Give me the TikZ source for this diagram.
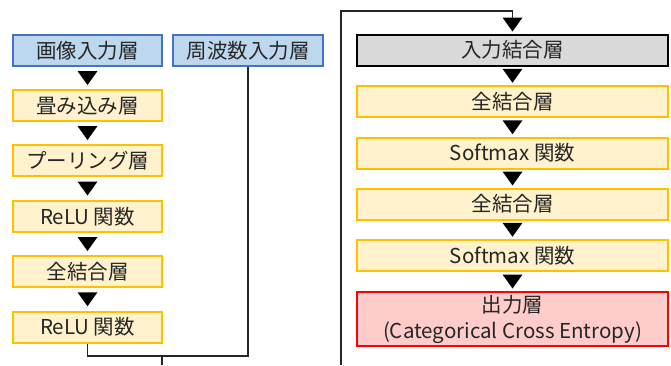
\documentclass[tikz,border=0pt]{standalone}
\usepackage{fontspec}
\setmainfont{Noto Sans CJK JP}
\usetikzlibrary{calc}
\definecolor{bluefill}{HTML}{BDD7EE}
\definecolor{blueline}{HTML}{4472C4}
\definecolor{yelfill}{HTML}{FFF2CC}
\definecolor{yelline}{HTML}{FFC000}
\definecolor{grayfill}{HTML}{D9D9D9}
\definecolor{redfill}{HTML}{FFCCCC}
\definecolor{redline}{HTML}{FF0000}
\definecolor{txt}{HTML}{262626}
\begin{document}
\begin{tikzpicture}[x=1pt,y=-1pt,
  box/.style={draw, line width=2pt, minimum height=31pt, inner sep=0pt, text=txt,
    font=\fontsize{20.5}{26}\selectfont, align=center},
  lbox/.style={box, minimum width=149pt},
  rbox/.style={box, minimum width=311pt},
  inblue/.style={fill=bluefill, draw=blueline},
  layer/.style={fill=yelfill, draw=yelline},
  mergebox/.style={fill=grayfill, draw=black},
  outbox/.style={fill=redfill, draw=redline},
  wire/.style={line width=1.2pt, draw=black!85},
  pics/tri/.style={code={\fill[black] (-10,-7) -- (10,-7) -- (0,7) -- cycle;}}
]
\useasboundingbox (0,0) rectangle (671,365);
% left column
\node[lbox, inblue] (img)   at (87.5,50.5)  {画像入力層};
\node[lbox, layer]  (conv)  at (87.5,105.5) {畳み込み層};
\node[lbox, layer]  (pool)  at (87.5,160.5) {プーリング層};
\node[lbox, layer]  (relu1) at (87.5,216.5) {ReLU 関数};
\node[lbox, layer]  (fc1)   at (87.5,271.5) {全結合層};
\node[lbox, layer]  (relu2) at (87.5,327)   {ReLU 関数};
\node[box, minimum width=150pt, inblue] (freq) at (248,50.5) {周波数入力層};
% right column
\node[rbox, mergebox] (concat) at (512.5,50)    {入力結合層};
\node[rbox, layer]    (fc2)    at (512.5,101.5) {全結合層};
\node[rbox, layer]    (sm1)    at (512.5,153)   {Softmax 関数};
\node[rbox, layer]    (fc3)    at (512.5,204)   {全結合層};
\node[rbox, layer]    (sm2)    at (512.5,255.5) {Softmax 関数};
\node[rbox, outbox, minimum height=54pt] (out) at (512.5,319) {出力層\\(Categorical Cross Entropy)};
% triangles
\foreach \a/\b in {img/conv, conv/pool, pool/relu1, relu1/fc1, fc1/relu2,
                   concat/fc2, fc2/sm1, sm1/fc3, fc3/sm2, sm2/out}
  \pic at ($(\a.south)!0.5!(\b.north)$) {tri};
\pic at ($(concat.north)+(0,-9)$) {tri};
% connectors
\coordinate (mid) at (162,356);
\coordinate (exitL) at (162,365);
\coordinate (exitR) at (341,365);
\coordinate (topR) at (341,11);
\draw[wire] (relu2.south) |- (mid) -| (freq.south);
\draw[wire] (mid) -- (exitL);
\draw[wire] (exitR) -- (topR) -| ($(concat.north)+(0,-16)$);
\end{tikzpicture}
\end{document}
